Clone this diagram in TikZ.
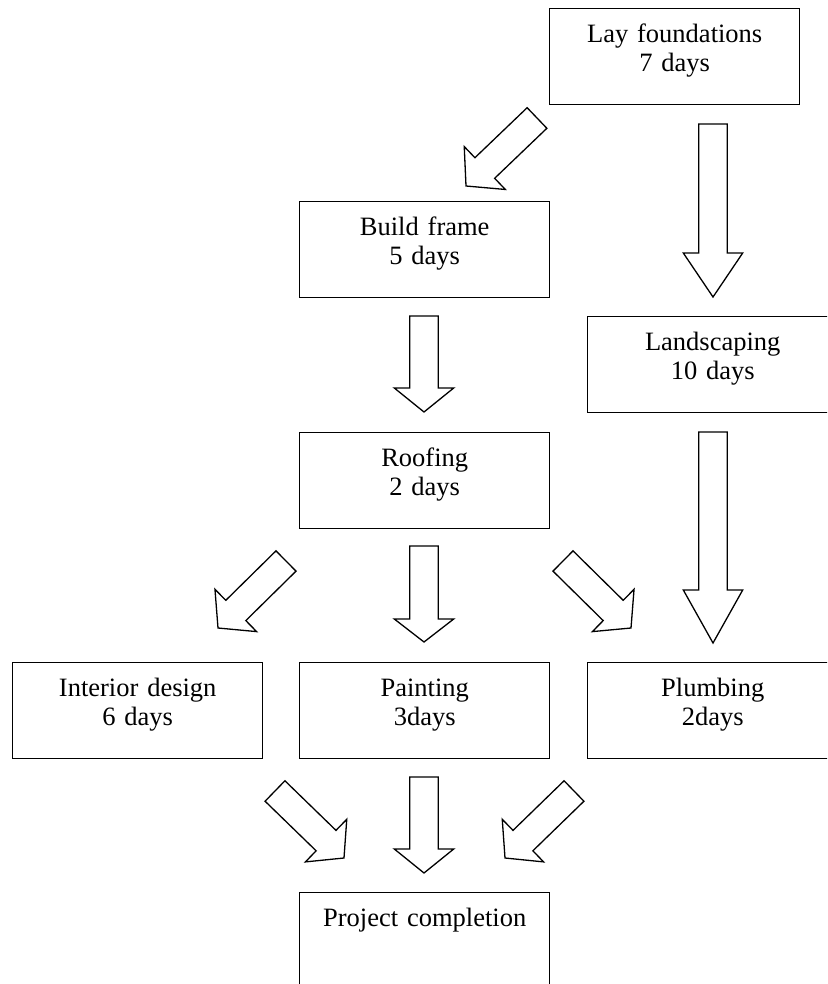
\documentclass[tikz,border=0pt]{standalone}
\usepackage{fontspec}
\setmainfont{Liberation Serif}
\usetikzlibrary{calc}
\tikzset{
  task/.style={draw=black, line width=1.4pt, anchor=north west,
    text width=250pt, align=center, inner sep=0pt,
    text height=34pt, text depth=62pt,
    font=\fontsize{26.5}{29}\selectfont},
  blockarrow/.style={draw=black, line width=1.3pt, fill=white, line join=miter}
}
% #1 tail coordinate, #2 tip coordinate, #3 head length
\newcommand{\barrow}[3]{%
  \path ($(#2)!#3!(#1)$) coordinate (bac);
  \draw[blockarrow]
    ($(#1)!14.25pt!90:(#2)$) -- ($(bac)!14.25pt!90:(#2)$) --
    ($(bac)!29.7pt!90:(#2)$) -- (#2) --
    ($(bac)!29.7pt!-90:(#2)$) -- ($(bac)!14.25pt!-90:(#2)$) --
    ($(#1)!14.25pt!-90:(#2)$) -- cycle;
}
\begin{document}
\begin{tikzpicture}[x=1pt,y=-1pt]
\useasboundingbox (0,0) rectangle (827,984);
\clip (0,0) rectangle (827,984);
\fill[white] (0,0) rectangle (827,984);

\node[task] (lay) at (549,8) {Lay foundations\\7 days};
\node[task] (build) at (299,201) {Build frame\\5 days};
\node[task] (land) at (587,316) {Landscaping\\10 days};
\node[task] (roof) at (299,432) {Roofing\\2 days};
\node[task] (interior) at (12,662) {Interior design\\6 days};
\node[task] (paint) at (299,662) {Painting\\3days};
\node[task] (plumb) at (587,662) {Plumbing\\2days};
\node[task] (done) at (299,892) {Project completion};

\coordinate (layBuildT) at (537,118);   \coordinate (layBuildH) at (466,186);
\coordinate (layLandT) at (713,124);    \coordinate (layLandH) at (713,297);
\coordinate (buildRoofT) at (424,316);  \coordinate (buildRoofH) at (424,412);
\coordinate (roofPaintT) at (424,546);  \coordinate (roofPaintH) at (424,642);
\coordinate (landPlumbT) at (713,432);  \coordinate (landPlumbH) at (713,643);
\coordinate (roofIntT) at (286,561);    \coordinate (roofIntH) at (218,628);
\coordinate (roofPlumbT) at (563,561);  \coordinate (roofPlumbH) at (631,628);
\coordinate (intDoneT) at (275,791);    \coordinate (intDoneH) at (344,858);
\coordinate (plumbDoneT) at (574,791);  \coordinate (plumbDoneH) at (505,858);
\coordinate (paintDoneT) at (424,777);  \coordinate (paintDoneH) at (424,873);

\barrow{layBuildT}{layBuildH}{26pt}
\barrow{layLandT}{layLandH}{44pt}
\barrow{buildRoofT}{buildRoofH}{24pt}
\barrow{roofPaintT}{roofPaintH}{23pt}
\barrow{landPlumbT}{landPlumbH}{53pt}
\barrow{roofIntT}{roofIntH}{25pt}
\barrow{roofPlumbT}{roofPlumbH}{25pt}
\barrow{intDoneT}{intDoneH}{25pt}
\barrow{plumbDoneT}{plumbDoneH}{25pt}
\barrow{paintDoneT}{paintDoneH}{24pt}
\end{tikzpicture}
\end{document}
